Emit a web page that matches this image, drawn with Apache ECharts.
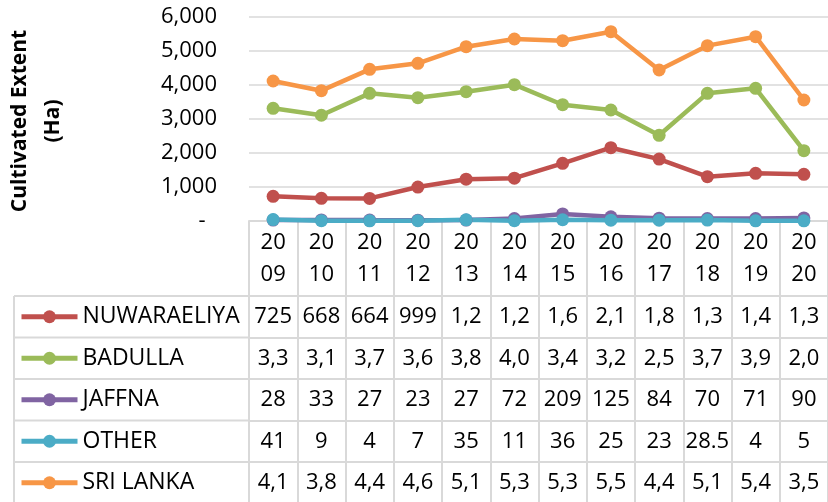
<!DOCTYPE html>
<html>
<head>
<meta charset="utf-8">
<script src="https://cdn.jsdelivr.net/npm/echarts@6/dist/echarts.min.js"></script>
<style>
  html, body { margin: 0; padding: 0; background: #fff; }
  #chart { width: 828px; height: 502px; }
</style>
</head>
<body>
<div id="chart"></div>
<script>
// data
const years = ['2009', '2010', '2011', '2012', '2013', '2014', '2015', '2016', '2017', '2018', '2019', '2020']
const nuwaraeliya = [725, 668, 664, 999, 1230, 1260, 1697, 2156, 1820, 1303, 1402, 1373]
const badulla = [3315, 3110, 3755, 3626, 3803, 4010, 3420, 3265, 2520, 3755, 3902, 2068]
const jaffna = [28, 33, 27, 23, 27, 72, 209, 125, 84, 70, 71, 90]
const other = [41, 9, 4, 7, 35, 11, 36, 25, 23, 28.5, 4, 5]
const sriLanka = [4118, 3833, 4461, 4637, 5127, 5353, 5304, 5568, 4441, 5157, 5421, 3559]
const yTicks = [0, 1000, 2000, 3000, 4000, 5000, 6000]

const seriesList = [
  { name: 'NUWARAELIYA', data: nuwaraeliya, color: '#C0504D' },
  { name: 'BADULLA', data: badulla, color: '#9BBB59' },
  { name: 'JAFFNA', data: jaffna, color: '#8064A2' },
  { name: 'OTHER', data: other, color: '#4BACC6' },
  { name: 'SRI LANKA', data: sriLanka, color: '#F79646' },
]

// layout
const FONT = 'Open Sans'
const FS = 22
const gridLeft = 249
const gridTop = 17
const gridHeight = 204
const colWidth = 48.9
const headerH = 75
const rowH = 41.5
const tableLeft = 14
const border = { color: '#D9D9D9', width: 2 }

// excel cuts numbers that don't fit: "1,234" -> "1,2"
function cellText(v) {
  if (v >= 1000) return v.toLocaleString('en-US').slice(0, 3)
  return String(v)
}

const rowAxes = seriesList.map((s, i) => ({
  type: 'category',
  gridIndex: 0,
  position: 'bottom',
  offset: headerH + i * rowH,
  data: s.data.map(cellText),
  axisLine: { show: true, lineStyle: border },
  axisTick: { show: true, interval: 0, length: rowH, lineStyle: border },
  axisLabel: {
    interval: 0,
    margin: rowH / 2,
    verticalAlign: 'middle',
    fontFamily: FONT,
    fontSize: FS,
    color: '#000',
  },
  splitLine: { show: false },
}))

const tableLines = []
for (let i = 0; i <= seriesList.length; i++) {
  const y = gridTop + gridHeight + headerH + i * rowH
  tableLines.push({
    type: 'line',
    shape: { x1: tableLeft, y1: y, x2: gridLeft, y2: y },
    style: { stroke: border.color, lineWidth: border.width },
  })
}
tableLines.push({
  type: 'line',
  shape: { x1: tableLeft, y1: gridTop + gridHeight + headerH, x2: tableLeft, y2: 510 },
  style: { stroke: border.color, lineWidth: border.width },
})

const option = {
  animation: false,
  grid: { left: gridLeft, top: gridTop, width: colWidth * years.length, height: gridHeight },
  legend: {
    orient: 'vertical',
    left: 19,
    top: gridTop + gridHeight + headerH + rowH / 2 - 12,
    padding: 0,
    itemGap: rowH - 24,
    itemWidth: 56,
    itemHeight: 16,
    lineStyle: { width: 5 },
    textStyle: { fontFamily: FONT, fontSize: 23, lineHeight: 24, color: '#000' },
    data: seriesList.map((s) => s.name),
  },
  graphic: [
    {
      type: 'text',
      x: 37,
      y: 121,
      rotation: Math.PI / 2,
      style: {
        text: 'Cultivated Extent\n(Ha)',
        font: 'bold 21px "Open Sans"',
        lineHeight: 33,
        align: 'center',
        verticalAlign: 'middle',
        fill: '#000',
      },
    },
    ...tableLines,
  ],
  xAxis: [
    {
      type: 'category',
      data: years,
      axisLine: { show: true, lineStyle: border },
      axisTick: { show: true, interval: 0, length: headerH, lineStyle: border },
      axisLabel: {
        interval: 0,
        margin: 6,
        lineHeight: 32,
        fontFamily: FONT,
        fontSize: FS,
        color: '#000',
        formatter: (v) => v.slice(0, 2) + '\n' + v.slice(2),
      },
    },
    ...rowAxes,
  ],
  yAxis: {
    type: 'value',
    min: yTicks[0],
    max: yTicks[yTicks.length - 1],
    interval: yTicks[1] - yTicks[0],
    axisLine: { show: false },
    axisTick: { show: false },
    splitLine: { lineStyle: { color: '#D9D9D9', width: 1.5 } },
    axisLabel: {
      margin: 32,
      fontFamily: FONT,
      fontSize: FS,
      color: '#000',
      formatter: (v) => (v === 0 ? '-  ' : v.toLocaleString('en-US')),
    },
  },
  series: seriesList.map((s) => ({
    name: s.name,
    type: 'line',
    xAxisIndex: 0,
    data: s.data,
    symbol: 'circle',
    symbolSize: 13,
    color: s.color,
    lineStyle: { width: 4.5, color: s.color },
    itemStyle: { color: s.color },
  })),
}

const chart = echarts.init(document.getElementById('chart'))
chart.setOption(option)
</script>
</body>
</html>
